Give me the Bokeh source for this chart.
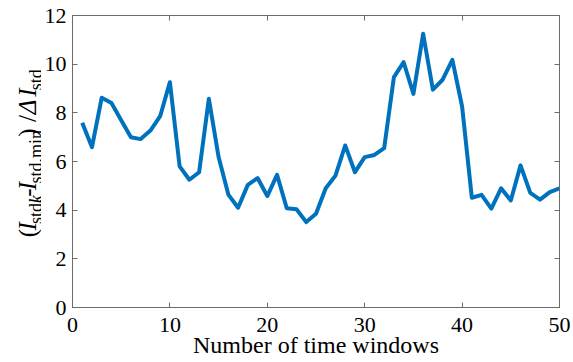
from math import pi

from bokeh.core.properties import value
from bokeh.embed import file_html
from bokeh.layouts import row
from bokeh.models import FixedTicker, LinearAxis, Range1d
from bokeh.plotting import figure
from bokeh.resources import INLINE

# Normalised standard-deviation index per time window
windows = list(range(1, 51))
ratio = [7.59, 6.59, 8.62, 8.40, 7.70, 7.00, 6.92, 7.27, 7.86, 9.26,
         5.80, 5.25, 5.56, 8.58, 6.18, 4.64, 4.10, 5.04, 5.32, 4.58,
         5.45, 4.08, 4.04, 3.51, 3.85, 4.90, 5.42, 6.66, 5.56, 6.18,
         6.27, 6.55, 9.47, 10.08, 8.78, 11.25, 8.95, 9.36, 10.18, 8.26,
         4.51, 4.63, 4.06, 4.90, 4.40, 5.84, 4.71, 4.43, 4.74, 4.90]
x_ticks = [0, 10, 20, 30, 40, 50]
y_ticks = [0, 2, 4, 6, 8, 10, 12]
x_title = "Number of time windows"

SERIF = "Liberation Serif"
FRAME_COLOR = "#6b6b6b"
W, H = 573, 362
LW = 41                      # width of the strip holding the y title
LEFT, RIGHT, TOP, BOTTOM = 71, 14, 15, 55

# ---- main plot -------------------------------------------------------------
p = figure(width=W - LW, height=H, x_range=Range1d(0, 50), y_range=Range1d(0, 12),
           output_backend="svg", toolbar_location=None,
           min_border_left=LEFT - LW, min_border_right=RIGHT,
           min_border_top=TOP, min_border_bottom=BOTTOM,
           x_axis_label=x_title)
p.grid.visible = False
p.outline_line_color = None
p.border_fill_color = "white"

p.line(windows, ratio, line_color="#0072BD", line_width=4, line_join="round")


def style_axis(ax, ticks, show_labels=True):
    ax.ticker = FixedTicker(ticks=ticks)
    ax.major_tick_in = 5
    ax.major_tick_out = 0
    ax.minor_tick_line_color = None
    ax.axis_line_color = FRAME_COLOR
    ax.major_tick_line_color = FRAME_COLOR
    ax.major_label_text_font = SERIF
    if show_labels:
        ax.major_label_text_font_size = "22px"
        ax.major_label_text_color = "black"
    else:
        # mirrored frame side: ticks only, labels not painted
        ax.major_label_text_font_size = "1px"
        ax.major_label_text_color = None
        ax.major_label_standoff = 0


style_axis(p.xaxis[0], x_ticks)
style_axis(p.yaxis[0], y_ticks)
p.xaxis.major_label_standoff = 10
p.yaxis.major_label_standoff = 6
p.xaxis.axis_label_text_font = SERIF
p.xaxis.axis_label_text_font_size = "24px"
p.xaxis.axis_label_text_font_style = "normal"
p.xaxis.axis_label_text_color = "black"
p.xaxis.axis_label_standoff = -3

top_axis = LinearAxis()
style_axis(top_axis, x_ticks, show_labels=False)
p.add_layout(top_axis, "above")
right_axis = LinearAxis()
style_axis(right_axis, y_ticks, show_labels=False)
p.add_layout(right_axis, "right")

# ---- y title strip: (I_std,k - I_std,min) / ΔI_std ---------------------------
# page-pixel coordinates (y grows downward) so runs can be laid end to end
t = figure(width=LW, height=H, x_range=Range1d(0, LW), y_range=Range1d(H, 0),
           output_backend="svg", toolbar_location=None, min_border=0,
           x_axis_type=None, y_axis_type=None)
t.grid.visible = False
t.outline_line_color = None
t.border_fill_color = "white"

ADV = {"(": .333, ")": .333, "/": .278, " ": .25, "-": .333, ",": .25,
       "I": .333, "s": .389, "t": .278, "d": .5, "k": .444, "m": .778,
       "i": .278, "n": .5, "Δ": .612}
MAIN, SUB = 25, 18
runs = [("(", MAIN, "normal"), ("I", MAIN, "italic"), ("std,", SUB, "normal"),
        ("k", SUB, "italic"), ("-", MAIN, "normal"), ("I", MAIN, "italic"),
        (" std,min", SUB, "normal"), (") / ", MAIN, "normal"),
        ("Δ", MAIN, "italic"), (" ", MAIN, "normal"), ("I", MAIN, "italic"),
        ("std", SUB, "normal")]
start_y = 275            # bottom end of the title
main_base, sub_base = 27, 35

offset = 0.0
for text, size, style in runs:
    base = main_base if size == MAIN else sub_base
    if text.strip():
        t.text(x=[base], y=[start_y - offset], text=[text], angle=pi / 2,
               text_font=value(SERIF), text_font_size=value(f"{size}px"),
               text_font_style=value(style), text_color="black",
               text_align="left", text_baseline="alphabetic")
    offset += sum(ADV[c] for c in text) * size

layout = row(t, p, spacing=0)
open("out.html", "w").write(file_html(layout, INLINE))
